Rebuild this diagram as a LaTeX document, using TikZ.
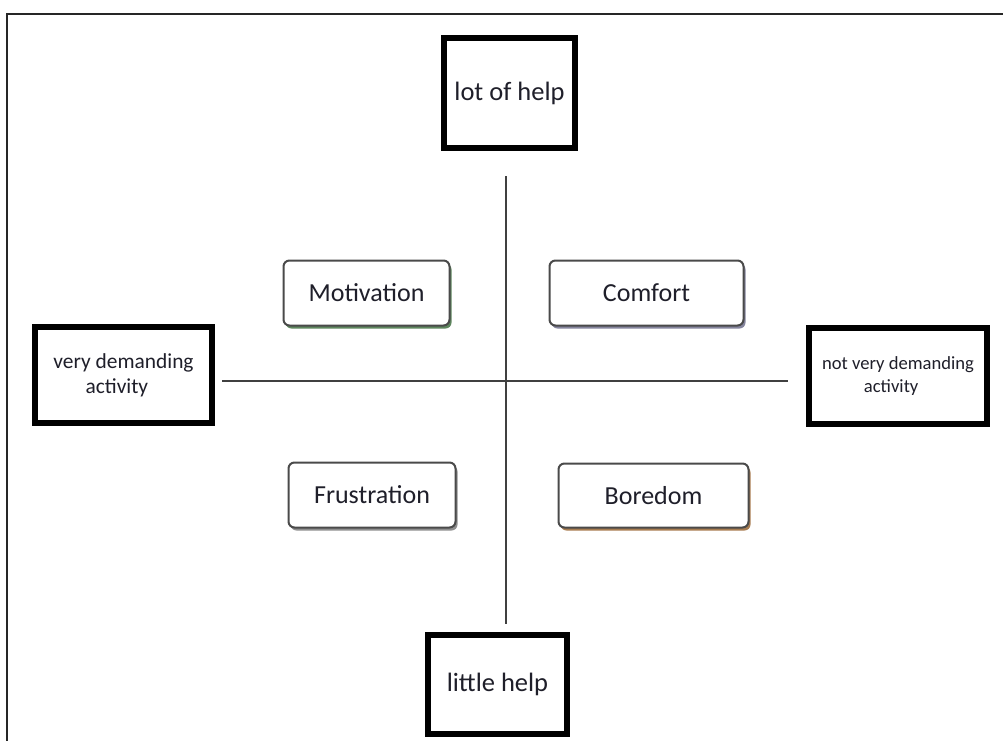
\documentclass[tikz,border=0pt]{standalone}
\usepackage{fontspec}
\setmainfont{Carlito}
\usetikzlibrary{shadows}
\definecolor{txt}{HTML}{1F1F2A}
\definecolor{bord}{HTML}{4A4A4A}
\begin{document}
\begin{tikzpicture}[x=1pt,y=-1pt,
  thickbox/.style={draw=black,line width=6pt,fill=white,inner sep=0pt,text=txt},
  roundbox/.style={draw=bord,line width=2pt,rounded corners=6pt,fill=white,inner sep=0pt,
     text=txt,font=\fontsize{26}{30}\selectfont},
  axis/.style={draw=black!75,line width=1.4pt}]
\useasboundingbox (0,0) rectangle (1003,740);
% outer frame (cut at right and bottom)
\draw[line width=2.2pt,black!85] (7,760) -- (7,14) -- (1010,14);
% axes
\coordinate (vtop) at (506,176);
\coordinate (vbot) at (506,624);
\coordinate (hl) at (222,381);
\coordinate (hr) at (788,381);
\draw[axis] (vtop) -- (vbot);
\draw[axis] (hl) -- (hr);
% thick boxes
\node[thickbox,minimum width=131,minimum height=110,font=\fontsize{26.5}{30}\selectfont] (lot) at (509.5,93) {lot of help};
\node[thickbox,minimum width=139,minimum height=99,font=\fontsize{26.5}{30}\selectfont] (little) at (497.5,684.5) {little help};
\node[thickbox,minimum width=177,minimum height=96,align=left,font=\fontsize{21.4}{25}\selectfont] (very) at (123.5,375) {very demanding\\\hspace*{1.5em}activity};
\node[thickbox,minimum width=178,minimum height=96,align=left,font=\fontsize{18.6}{23}\selectfont] (notvery) at (898,376) {not very demanding\\\hspace*{2.25em}activity};
% rounded boxes
\node[roundbox,minimum width=166,minimum height=65,
  drop shadow={shadow xshift=2pt,shadow yshift=-3pt,fill=green!25!black!70,opacity=0.9}] (mot) at (366.5,293) {Motivation};
\node[roundbox,minimum width=194,minimum height=65,
  drop shadow={shadow xshift=2pt,shadow yshift=-3pt,fill=blue!20!black!60,opacity=0.8}] (com) at (646.5,293) {Comfort};
\node[roundbox,minimum width=167,minimum height=65,
  drop shadow={shadow xshift=2pt,shadow yshift=-3pt,fill=black!55,opacity=0.8}] (fru) at (372,495) {Frustration};
\node[roundbox,minimum width=190,minimum height=64,
  drop shadow={shadow xshift=2pt,shadow yshift=-3pt,fill=orange!50!black!80,opacity=0.85}] (bor) at (653.5,495.5) {Boredom};
\end{tikzpicture}
\end{document}
